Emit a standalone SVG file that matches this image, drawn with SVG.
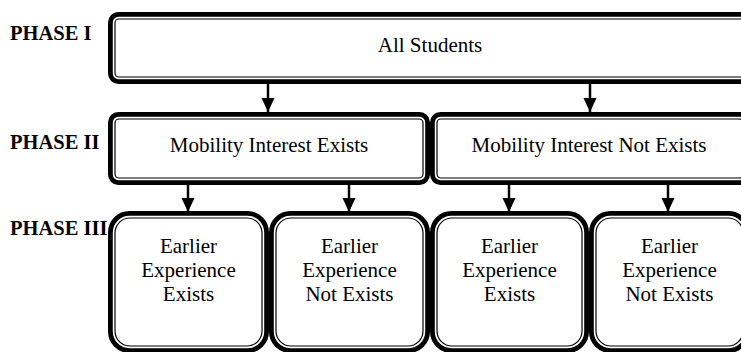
<svg xmlns="http://www.w3.org/2000/svg" width="741" height="352" viewBox="0 0 741 352">
<defs>
<style>
.thick{fill:#fff;stroke:#000;stroke-width:4.8}
.thin{fill:none;stroke:#000;stroke-width:1.2}
.t{font-family:"Liberation Serif","Times New Roman",serif;font-size:21px;fill:#000;text-anchor:middle}
.ph{font-family:"Liberation Serif","Times New Roman",serif;font-size:20.5px;font-weight:bold;fill:#000}
.ln{stroke:#000;stroke-width:2.5;fill:none}
</style>
<marker id="ah" viewBox="0 0 14 13" refX="14" refY="6.5" markerWidth="14" markerHeight="14" markerUnits="userSpaceOnUse" orient="auto">
<path d="M0,0 L14,6.5 L0,13 Z" fill="#000"/>
</marker>
</defs>
<rect width="741" height="352" fill="#fff"/>
<g id="labels">
<text class="ph" x="10" y="40">PHASE I</text>
<text class="ph" x="10" y="149">PHASE II</text>
<text class="ph" x="10" y="235">PHASE III</text>
</g>
<g id="connectors">
<line class="ln" x1="268" y1="84" x2="268" y2="112" marker-end="url(#ah)"/>
<line class="ln" x1="590" y1="84" x2="590" y2="112" marker-end="url(#ah)"/>
<line class="ln" x1="188" y1="185" x2="188" y2="212" marker-end="url(#ah)"/>
<line class="ln" x1="349" y1="185" x2="349" y2="212" marker-end="url(#ah)"/>
<line class="ln" x1="509" y1="185" x2="509" y2="212" marker-end="url(#ah)"/>
<line class="ln" x1="668" y1="185" x2="668" y2="212" marker-end="url(#ah)"/>
</g>
<g id="all-students">
<rect class="thick" x="110.4" y="14.4" width="639.2" height="67.2" rx="8"/>
<rect class="thin" x="115" y="19" width="630" height="58" rx="4"/>
<text class="t" x="430" y="52">All Students</text>
</g>
<g id="interest-exists">
<rect class="thick" x="110.4" y="114.4" width="317.2" height="68.2" rx="8"/>
<rect class="thin" x="115" y="119" width="308" height="59" rx="4"/>
<text class="t" x="269" y="152">Mobility Interest Exists</text>
</g>
<g id="interest-not-exists">
<rect class="thick" x="432.4" y="114.4" width="315.2" height="68.2" rx="8"/>
<rect class="thin" x="437" y="119" width="306" height="59" rx="4"/>
<text class="t" x="589" y="152">Mobility Interest Not Exists</text>
</g>
<g id="exp-exists-1">
<rect class="thick" x="110.4" y="213.4" width="156.2" height="137.2" rx="19"/>
<rect class="thin" x="115" y="218" width="147" height="128" rx="15"/>
<text class="t" x="188.5" y="253">Earlier</text>
<text class="t" x="188.5" y="277">Experience</text>
<text class="t" x="188.5" y="301">Exists</text>
</g>
<g id="exp-not-exists-1">
<rect class="thick" x="271.4" y="213.4" width="156.2" height="137.2" rx="19"/>
<rect class="thin" x="276" y="218" width="147" height="128" rx="15"/>
<text class="t" x="349.5" y="253">Earlier</text>
<text class="t" x="349.5" y="277">Experience</text>
<text class="t" x="349.5" y="301">Not Exists</text>
</g>
<g id="exp-exists-2">
<rect class="thick" x="432.4" y="213.4" width="154.2" height="137.2" rx="19"/>
<rect class="thin" x="437" y="218" width="145" height="128" rx="15"/>
<text class="t" x="509.5" y="253">Earlier</text>
<text class="t" x="509.5" y="277">Experience</text>
<text class="t" x="509.5" y="301">Exists</text>
</g>
<g id="exp-not-exists-2">
<rect class="thick" x="591.4" y="213.4" width="156.2" height="137.2" rx="19"/>
<rect class="thin" x="596" y="218" width="147" height="128" rx="15"/>
<text class="t" x="669.5" y="253">Earlier</text>
<text class="t" x="669.5" y="277">Experience</text>
<text class="t" x="669.5" y="301">Not Exists</text>
</g>
</svg>
